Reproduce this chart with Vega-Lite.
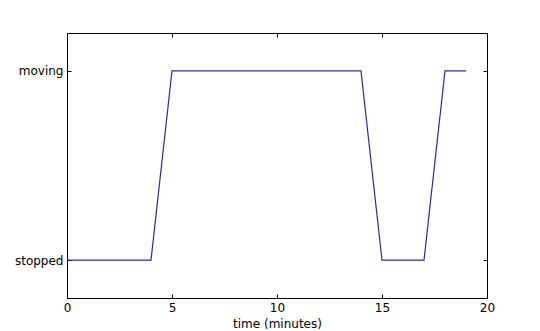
{
  "$schema": "https://vega.github.io/schema/vega-lite/v6.json",
  "width": 420,
  "height": 265,
  "autosize": {"type": "none"},
  "padding": {"left": 67, "top": 33, "right": 53, "bottom": 33},
  "background": "white",
  "config": {
    "view": {"stroke": "#000000", "strokeWidth": 1},
    "font": "DejaVu Sans",
    "axis": {
      "grid": false,
      "domain": false,
      "tickColor": "#000000",
      "tickSize": -4,
      "labelFlush": false,
      "labelFont": "DejaVu Sans",
      "labelFontSize": 12,
      "labelColor": "#000000",
      "titleFont": "DejaVu Sans",
      "titleFontSize": 12,
      "titleFontWeight": "normal",
      "titleColor": "#000000"
    }
  },
  "data": {
    "values": [
      {"t": 0, "s": 0}, {"t": 1, "s": 0}, {"t": 2, "s": 0}, {"t": 3, "s": 0}, {"t": 4, "s": 0},
      {"t": 5, "s": 1}, {"t": 6, "s": 1}, {"t": 7, "s": 1}, {"t": 8, "s": 1}, {"t": 9, "s": 1},
      {"t": 10, "s": 1}, {"t": 11, "s": 1}, {"t": 12, "s": 1}, {"t": 13, "s": 1}, {"t": 14, "s": 1},
      {"t": 15, "s": 0}, {"t": 16, "s": 0}, {"t": 17, "s": 0},
      {"t": 18, "s": 1}, {"t": 19, "s": 1}
    ]
  },
  "layer": [
    {
      "mark": {"type": "line", "color": "#2a2aa8", "strokeWidth": 1.2, "clip": true},
      "encoding": {
        "x": {
          "field": "t", "type": "quantitative",
          "scale": {"domain": [0, 20], "nice": false, "zero": false},
          "axis": {"values": [0, 5, 10, 15, 20], "title": "time (minutes)", "labelPadding": 8, "titlePadding": 5}
        },
        "y": {
          "field": "s", "type": "quantitative",
          "scale": {"domain": [-0.2, 1.2], "nice": false, "zero": false},
          "axis": {"values": [0, 1], "title": null, "labelPadding": 8,
            "labelExpr": "datum.value == 1 ? 'moving' : 'stopped'"}
        }
      }
    },
    {
      "mark": {"type": "line", "opacity": 0},
      "encoding": {
        "x": {
          "field": "t", "type": "quantitative",
          "axis": {"orient": "top", "values": [0, 5, 10, 15, 20], "labels": false, "title": null}
        },
        "y": {
          "field": "s", "type": "quantitative",
          "axis": {"orient": "right", "values": [0, 1], "labels": false, "title": null}
        }
      }
    }
  ],
  "resolve": {"axis": {"x": "independent", "y": "independent"}}
}
